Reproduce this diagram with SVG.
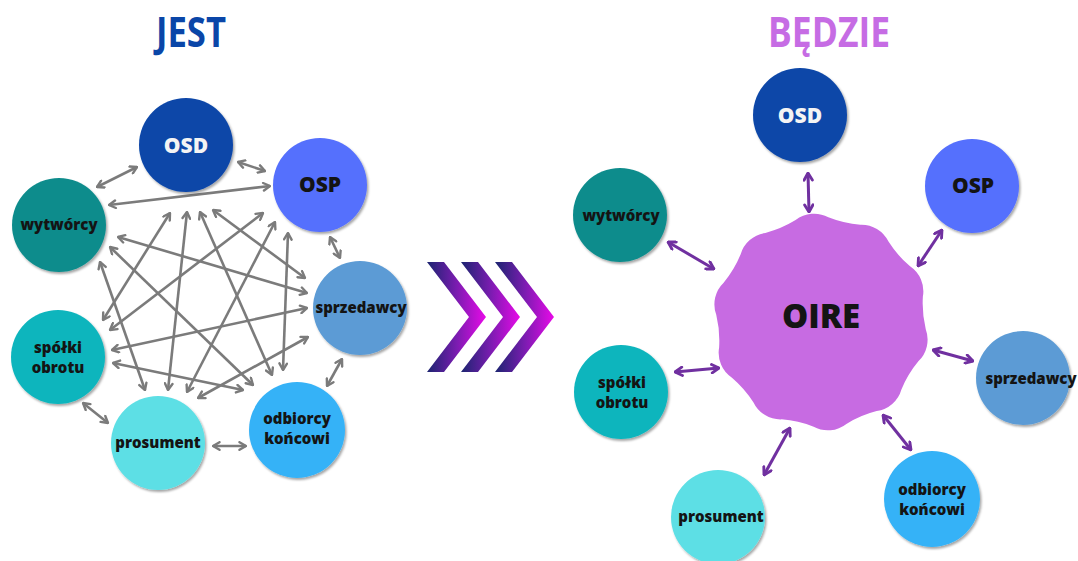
<svg xmlns="http://www.w3.org/2000/svg" width="1078" height="561" viewBox="0 0 1078 561">
<defs>
<style>
.lbl{font-family:"Open Sans","Liberation Sans",sans-serif;font-weight:800;font-size:15px;fill:#141414;text-anchor:middle}
.big{font-size:21px}
.wh{fill:#f4f4f4}
.ttl{font-family:"Open Sans","Liberation Sans",sans-serif;font-weight:700;font-size:41px;text-anchor:middle}
.gl line{stroke:#7b7b7b;stroke-width:2.6;marker-start:url(#ag);marker-end:url(#ag)}
.pl line{stroke:#7030a0;stroke-width:3;marker-start:url(#ap);marker-end:url(#ap)}
.nd circle{filter:url(#sh)}
</style>
<filter id="sh" x="-20%" y="-20%" width="140%" height="140%">
<feDropShadow dx="1.5" dy="2" stdDeviation="1.2" flood-color="#000" flood-opacity="0.35"/>
</filter>
<marker id="ag" viewBox="0 0 10 10" refX="9" refY="5" markerWidth="10" markerHeight="10" markerUnits="userSpaceOnUse" orient="auto-start-reverse">
<path d="M2.5,1.2 L9,5 L2.5,8.8" fill="none" stroke="#7b7b7b" stroke-width="2.4" stroke-linecap="round" stroke-linejoin="round"/>
</marker>
<marker id="ap" viewBox="0 0 10 10" refX="9" refY="5" markerWidth="11" markerHeight="11" markerUnits="userSpaceOnUse" orient="auto-start-reverse">
<path d="M2.5,1.2 L9,5 L2.5,8.8" fill="none" stroke="#7030a0" stroke-width="2.6" stroke-linecap="round" stroke-linejoin="round"/>
</marker>
<linearGradient id="chev" x1="0" y1="0" x2="1" y2="0">
<stop offset="0" stop-color="#1b2570"/>
<stop offset="0.5" stop-color="#7a1cb0"/>
<stop offset="1" stop-color="#e80ae8"/>
</linearGradient>
</defs>
<rect width="1078" height="561" fill="#ffffff"/>

<text class="ttl" x="191" y="47" fill="#0a46a8" textLength="70" lengthAdjust="spacingAndGlyphs">JEST</text>
<text class="ttl" x="829" y="47" fill="#c66ce4" textLength="122" lengthAdjust="spacingAndGlyphs">BĘDZIE</text>

<!-- LEFT: connectors -->
<g id="left-connectors" class="gl">
<line x1="97" y1="187" x2="137" y2="167"/>
<line x1="238" y1="162" x2="265" y2="171"/>
<line x1="109" y1="205" x2="270" y2="186"/>
<line x1="330" y1="237" x2="340" y2="258"/>
<line x1="342" y1="359" x2="327" y2="386"/>
<line x1="83" y1="403" x2="108" y2="423"/>
<line x1="213" y1="446" x2="246" y2="446"/>
<line x1="170" y1="213" x2="103" y2="320"/>
<line x1="187" y1="212" x2="168" y2="390"/>
<line x1="200" y1="212" x2="272" y2="375"/>
<line x1="213" y1="210" x2="305" y2="278"/>
<line x1="263" y1="213" x2="110" y2="330"/>
<line x1="275" y1="222" x2="187" y2="392"/>
<line x1="288" y1="233" x2="283" y2="370"/>
<line x1="307" y1="293" x2="118" y2="237"/>
<line x1="307" y1="308" x2="112" y2="350"/>
<line x1="308" y1="337" x2="198" y2="398"/>
<line x1="253" y1="385" x2="110" y2="247"/>
<line x1="243" y1="390" x2="113" y2="363"/>
<line x1="145" y1="390" x2="100" y2="262"/>
</g>

<!-- LEFT: nodes -->
<g id="l-osd" class="nd"><circle cx="186" cy="145" r="47" fill="#0a46a8"/><text class="lbl big wh" x="186" y="153">OSD</text></g>
<g id="l-osp" class="nd"><circle cx="320" cy="185" r="47" fill="#556ffd"/><text class="lbl big" x="320" y="192">OSP</text></g>
<g id="l-wytworcy" class="nd"><circle cx="59" cy="225" r="47" fill="#0f8c8c"/><text class="lbl" x="59" y="230">wytwórcy</text></g>
<g id="l-sprzedawcy" class="nd"><circle cx="360" cy="308" r="47" fill="#5b9bd5"/><text class="lbl" x="361" y="313">sprzedawcy</text></g>
<g id="l-spolki" class="nd"><circle cx="58" cy="357" r="47" fill="#0fb5bd"/><text class="lbl" x="58" y="353">spółki</text><text class="lbl" x="58" y="373">obrotu</text></g>
<g id="l-prosument" class="nd"><circle cx="158" cy="443" r="47" fill="#5ddfe5"/><text class="lbl" x="158" y="448">prosument</text></g>
<g id="l-odbiorcy" class="nd"><circle cx="297" cy="430" r="48" fill="#36b2f7"/><text class="lbl" x="297" y="424">odbiorcy</text><text class="lbl" x="297" y="444">końcowi</text></g>

<!-- chevrons -->
<g id="chevrons" fill="url(#chev)">
<polygon points="427,262 444,262 486,317 444,372 427,372 469,317"/>
<polygon points="461,262 478,262 520,317 478,372 461,372 503,317"/>
<polygon points="495,262 512,262 554,317 512,372 495,372 537,317"/>
</g>

<!-- RIGHT: connectors -->
<g id="right-connectors" class="pl">
<line x1="808" y1="173" x2="809" y2="212"/>
<line x1="668" y1="242" x2="714" y2="269"/>
<line x1="942" y1="230" x2="918" y2="266"/>
<line x1="675" y1="372" x2="719" y2="368"/>
<line x1="933" y1="350" x2="973" y2="361"/>
<line x1="764" y1="475" x2="790" y2="428"/>
<line x1="883" y1="415" x2="911" y2="450"/>
</g>

<!-- RIGHT: nodes -->
<g id="r-oire">
<path fill="#c76be2" d="M795.60,220.12 A30,30 0 0 1 828.33,217.25 A110,110 0 0 0 860.33,224.65 A30,30 0 0 1 888.49,241.57 A110,110 0 0 0 910.04,266.36 A30,30 0 0 1 922.88,296.60 A110,110 0 0 0 925.75,329.33 A30,30 0 0 1 918.36,361.33 A110,110 0 0 0 901.43,389.49 A30,30 0 0 1 876.64,411.04 A110,110 0 0 0 846.40,423.88 A30,30 0 0 1 813.67,426.75 A110,110 0 0 0 781.67,419.36 A30,30 0 0 1 753.51,402.43 A110,110 0 0 0 731.96,377.64 A30,30 0 0 1 719.12,347.40 A110,110 0 0 0 716.25,314.67 A30,30 0 0 1 723.64,282.67 A110,110 0 0 0 740.57,254.51 A30,30 0 0 1 765.36,232.96 A110,110 0 0 0 795.60,220.12 Z"/>
<text class="lbl" style="font-size:33px" x="821" y="328">OIRE</text>
</g>
<g id="r-osd" class="nd"><circle cx="800" cy="115" r="47" fill="#0a46a8"/><text class="lbl big wh" x="800" y="123">OSD</text></g>
<g id="r-osp" class="nd"><circle cx="972" cy="186" r="47" fill="#556ffd"/><text class="lbl big" x="973" y="193">OSP</text></g>
<g id="r-wytworcy" class="nd"><circle cx="620" cy="215" r="47" fill="#0f8c8c"/><text class="lbl" x="621" y="221">wytwórcy</text></g>
<g id="r-spolki" class="nd"><circle cx="621" cy="392" r="47" fill="#0fb5bd"/><text class="lbl" x="622" y="388">spółki</text><text class="lbl" x="622" y="408">obrotu</text></g>
<g id="r-sprzedawcy" class="nd"><circle cx="1023" cy="378" r="47" fill="#5b9bd5"/><text class="lbl" x="1031" y="384">sprzedawcy</text></g>
<g id="r-prosument" class="nd"><circle cx="718" cy="517" r="47" fill="#5ddfe5"/><text class="lbl" x="721" y="522">prosument</text></g>
<g id="r-odbiorcy" class="nd"><circle cx="932" cy="499" r="48" fill="#36b2f7"/><text class="lbl" x="932" y="495">odbiorcy</text><text class="lbl" x="932" y="515">końcowi</text></g>
</svg>
